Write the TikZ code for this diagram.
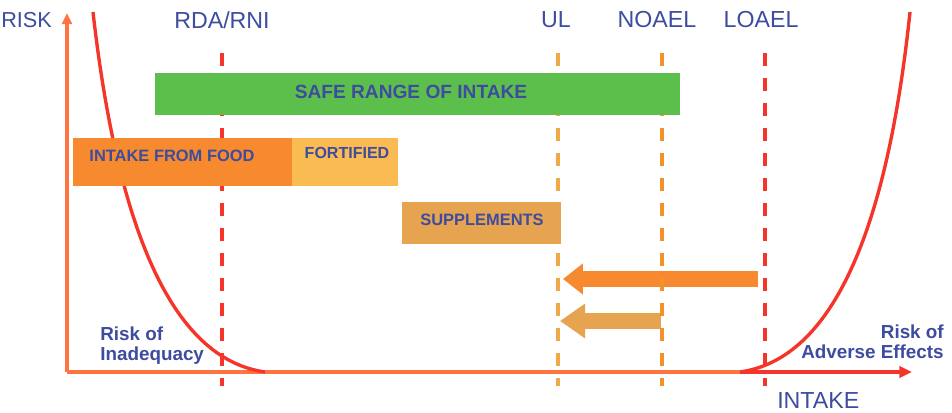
\documentclass[tikz,border=0pt]{standalone}
\usepackage{fontspec}
\setmainfont{Liberation Sans}
\usepackage{xcolor}
\usetikzlibrary{arrows.meta,positioning}

\definecolor{txtblue}{HTML}{3D4C9E}
\definecolor{axisorange}{HTML}{FF7440}
\definecolor{curvered}{HTML}{F5352A}
\definecolor{safegreen}{HTML}{5CBF4C}
\definecolor{foodorange}{HTML}{F7892F}
\definecolor{fortyellow}{HTML}{F9BB52}
\definecolor{suppbrown}{HTML}{E6A450}
\definecolor{ulorange}{HTML}{F0A848}
\definecolor{noaelorange}{HTML}{F39228}

\tikzset{
  lvl/.style={text=txtblue,font=\fontsize{16.5}{18}\selectfont},
  barbox/.style={draw=none,minimum height=#1,inner sep=0pt},
  bartext/.style={text=txtblue,font=\bfseries\fontsize{#1}{13}\selectfont},
  risklbl/.style={text=txtblue,font=\bfseries\fontsize{13.4}{14}\selectfont,align=left,inner sep=0pt},
  limit/.style={dash pattern=on 9.25pt off 8.55pt,line width=2.8pt}
}

\begin{document}
\begin{tikzpicture}[x=0.025cm,y=-0.025cm]
  \useasboundingbox (0,0) rectangle (952,413);
  % axes
  \coordinate (origin) at (67,372);
  \coordinate (ytop) at (67,13);
  \coordinate (xend) at (912,372);
  \coordinate (xred) at (740,372);
  \draw[axisorange,line width=2.2pt,-{Triangle[length=8pt,width=7pt]}] (origin) -- (ytop);
  \draw[axisorange,line width=2.2pt] (origin) -- (xred);
  \draw[curvered,line width=2.2pt,-{Triangle[length=9pt,width=8pt]}] (xred) -- (xend);
  \node[text=txtblue,font=\fontsize{15.4}{17}\selectfont,anchor=west,inner sep=0pt] (risk) at (1,20) {RISK};
  \node[lvl,anchor=north west,inner sep=0pt] (intake) at (777,392) {INTAKE};

  % risk curves (behind the bars)
  \coordinate (lTop) at (93,12);    \coordinate (lEnd) at (265,372);
  \coordinate (rTop) at (910,12);   \coordinate (rEnd) at (740,372);
  \draw[curvered,line width=2.4pt] (lTop) .. controls (120,250) and (180,360) .. (lEnd);
  \draw[curvered,line width=2.4pt] (rTop) .. controls (885,250) and (825,360) .. (rEnd);

  % shift arrows
  \coordinate (bigS) at (758,279);  \coordinate (bigE) at (563,279);
  \coordinate (smallS) at (661,321); \coordinate (smallE) at (560,321);
  \draw[foodorange,line width=11.4pt,-{Triangle[length=14.2pt,width=21.3pt]}] (bigS) -- (bigE);
  \draw[suppbrown,line width=12pt,-{Triangle[length=17.8pt,width=23.5pt]}] (smallS) -- (smallE);

  % level labels and dashed limits
  \node[lvl] (rda) at (222,20) {RDA/RNI};
  \node[lvl] (ul) at (556,20) {UL};
  \node[lvl] (noael) at (657,20) {NOAEL};
  \node[lvl] (loael) at (761,20) {LOAEL};
  \coordinate (rdaT) at (222,53);   \coordinate (rdaB) at (222,386);
  \coordinate (ulT) at (558,53);    \coordinate (ulB) at (558,386);
  \coordinate (noaelT) at (662,53); \coordinate (noaelB) at (662,386);
  \coordinate (loaelT) at (765,53); \coordinate (loaelB) at (765,386);
  \draw[limit,curvered] (rdaT) -- (rdaB);
  \draw[limit,ulorange] (ulT) -- (ulB);
  \draw[limit,noaelorange] (noaelT) -- (noaelB);
  \draw[limit,curvered] (loaelT) -- (loaelB);

  % intake bars
  \node[barbox=42*0.025cm,fill=safegreen,minimum width=525*0.025cm,anchor=north west] (safe) at (155,73) {};
  \node[bartext=13.6] at (411,92) {SAFE RANGE OF INTAKE};
  \node[barbox=48*0.025cm,fill=foodorange,minimum width=219*0.025cm,anchor=north west] (food) at (73,138) {};
  \node[bartext=11.7] at (172,156) {INTAKE FROM FOOD};
  \node[barbox=48*0.025cm,fill=fortyellow,minimum width=106*0.025cm,anchor=north west] (fort) at (292,138) {};
  \node[bartext=11.4] at (347,153) {FORTIFIED};
  \node[barbox=42*0.025cm,fill=suppbrown,minimum width=159*0.025cm,anchor=north west] (supp) at (402,202) {};
  \node[bartext=11.7] at (482,220) {SUPPLEMENTS};

  \node[risklbl,anchor=north west] (inad) at (100,327) {Risk of\\Inadequacy};
  \node[risklbl,anchor=north east,align=right] (adverse) at (944,325) {Risk of\\Adverse Effects};
\end{tikzpicture}
\end{document}
